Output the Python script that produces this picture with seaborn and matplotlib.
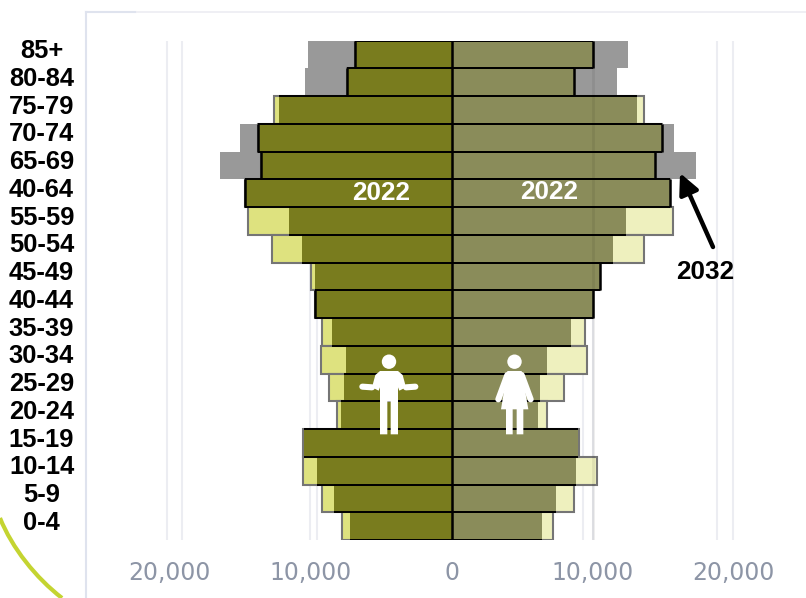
import numpy as np
import pandas as pd
import seaborn as sns
import matplotlib.pyplot as plt
from matplotlib.lines import Line2D
from matplotlib.patches import Circle, PathPatch, Polygon
from matplotlib.path import Path
from matplotlib.transforms import Affine2D, ScaledTranslation

# population pyramid, 2022 vs 2032
ages = ['85+', '80-84', '75-79', '70-74', '65-69', '40-64', '55-59', '50-54', '45-49',
        '40-44', '35-39', '30-34', '25-29', '20-24', '15-19', '10-14', '5-9', '0-4']
male_2022 = [6850, 7400, 12600, 13700, 13500, 14650, 14450, 12750, 9950,
             9650, 9200, 9250, 8700, 8100, 10500, 10550, 9200, 7800]
male_2032 = [10200, 10400, 12200, 15000, 16400, 14650, 11550, 10600, 9700,
             9650, 8450, 7500, 7650, 7850, 10450, 9550, 8300, 7200]
female_2022 = [10000, 8700, 13650, 14950, 14450, 15500, 15700, 13650, 10550,
               10050, 9500, 9600, 7950, 6800, 9050, 10350, 8700, 7200]
female_2032 = [12550, 11750, 13150, 15800, 17350, 15500, 12350, 11450, 10550,
               10050, 8450, 6800, 6300, 6150, 9000, 8800, 7400, 6450]
grid_lines = [-20200, -19100, -10050, -9550, 9300, 10000, 18850, 19950]
x_ticks = [-20000, -10000, 0, 10000, 20000]
x_labels = ['20,000', '10,000', '0', '10,000', '20,000']

W, H = 806, 598
plt.rcParams['font.family'] = ['Liberation Sans', 'DejaVu Sans']
fig = plt.figure(figsize=(W / 100, H / 100), dpi=100)
ax = fig.add_axes([86 / W, (H - 540) / H, (W - 86) / W, 499.3 / H])
px = Affine2D().scale(1, -1).translate(0, H)  # reference pixel coords


def bars(values, sign, color, edge='none', zorder=2):
    df = pd.DataFrame({'age': ages, 'pop': sign * np.array(values)})
    sns.barplot(data=df, x='pop', y='age', order=ages, orient='y', color=color, saturation=1,
                width=1, edgecolor=edge, linewidth=1.5 if edge != 'none' else 0,
                errorbar=None, zorder=zorder, ax=ax)


def side(v22, v32, sign, pale, dark):
    v22 = np.array(v22)
    v32 = np.array(v32)
    both = np.minimum(v22, v32)
    bars(v32, sign, '#999999', zorder=2)
    bars(v22, sign, pale, edge='#757575', zorder=3)
    bars(both, sign, dark, zorder=4)
    for i in range(len(ages)):
        ax.hlines([i - 0.5, i + 0.5], 0, sign * both[i], color='black', lw=1.4, zorder=5)
        if v22[i] <= v32[i]:
            ax.vlines(sign * v22[i], i - 0.5, i + 0.5, color='black', lw=1.8, zorder=5)


for g in grid_lines:
    ax.axvline(g, color='#ecedf2', lw=1.5, zorder=1)

side(male_2022, male_2032, -1, '#dee27f', '#797c1e')
side(female_2022, female_2032, 1, '#eef0be', '#8a8c5a')
ax.axvline(10000, color='black', alpha=0.07, lw=2, zorder=6)
ax.axvline(0, color='black', lw=1.8, zorder=6)

ax.set_xlim((86 - 451.5) / 14.1 * 1000, (W - 451.5) / 14.1 * 1000)
ax.set_ylim(17.5, -0.5)
ax.set_xlabel('')
ax.set_ylabel('')
for s in ax.spines.values():
    s.set_visible(False)

ax.set_xticks(x_ticks, x_labels, family='DejaVu Sans', fontsize=17, color='#8d95a6')
ax.tick_params(axis='x', length=0, pad=15)
ax.set_yticks(range(len(ages)), ages, fontsize=18.4, fontweight='bold', color='black', ha='center')
ax.tick_params(axis='y', length=0, pad=32)
shift = ScaledTranslation(0, 4.2 / 72, fig.dpi_scale_trans)
for lab in ax.get_yticklabels():
    lab.set_transform(lab.get_transform() + shift)

ax.text(-70 / 14.1 * 1000, 4.99, '2022', color='white', fontsize=18.8, fontweight='bold',
        ha='center', va='center', zorder=8)
ax.text(97.5 / 14.1 * 1000, 4.95, '2022', color='white', fontsize=18.8, fontweight='bold',
        ha='center', va='center', zorder=8)
fig.text(705 / W, 1 - 272 / H, '2032', color='black', fontsize=18.8, fontweight='bold',
         ha='center', va='center')

# arrow to the 2032 bar
ax.annotate('', xy=(680, H - 173), xytext=(713, H - 247), xycoords='figure pixels',
            textcoords='figure pixels', zorder=9, annotation_clip=False,
            arrowprops=dict(arrowstyle='-|>,head_length=0.62,head_width=0.3', color='black',
                            lw=3.2, mutation_scale=20, shrinkA=0, shrinkB=0))

# frame and corner arc
t = px
fig.add_artist(Line2D([86, 86], [12, 598], color='#dfe3ee', lw=1.5, transform=t))
fig.add_artist(Line2D([86, 806], [12, 12], color='#eeeef3', lw=1.3, transform=t))
fig.add_artist(Line2D([86, 135], [12, 12], color='#dfe3ee', lw=1.5, transform=t))
arc = Path([(0, 518), (12, 548), (36, 578), (62, 598)], [Path.MOVETO, Path.CURVE4, Path.CURVE4, Path.CURVE4])
fig.add_artist(PathPatch(arc, fill=False, edgecolor='#c4d431', lw=3, transform=t))


def zx(x, ox=280, oy=300):
    return [(a / 3 + ox, b / 3 + oy) for a, b in x]


def limb(pts):
    p = zx(pts)
    fig.add_artist(Line2D([q[0] for q in p], [q[1] for q in p], color='white', lw=4.4,
                          solid_capstyle='round', solid_joinstyle='round', transform=t, zorder=10))


def block(pts):
    fig.add_artist(Polygon(zx(pts), closed=True, facecolor='white', edgecolor='none', transform=t, zorder=10))


# man icon
fig.add_artist(Circle((389, 361.7), 7.2, facecolor='white', edgecolor='none', transform=t, zorder=10))
block([(300, 213), (354, 213), (368, 225), (378, 262), (358, 272), (354, 262), (354, 403),
       (332, 403), (332, 305), (322, 305), (322, 403), (300, 403), (300, 262), (296, 272),
       (276, 262), (286, 225)])
limb([(276, 262), (247, 260)])
limb([(378, 262), (406, 260)])
# woman icon
fig.add_artist(Circle((514.5, 361.7), 7.2, facecolor='white', edgecolor='none', transform=t, zorder=10))
block([(682, 213), (725, 213), (745, 328), (730, 328), (730, 403), (710, 403), (710, 328),
       (698, 328), (698, 403), (678, 403), (678, 328), (663, 328)])
limb([(682, 225), (655, 298)])
limb([(725, 225), (752, 298)])

fig.savefig('out.png', dpi=100)
